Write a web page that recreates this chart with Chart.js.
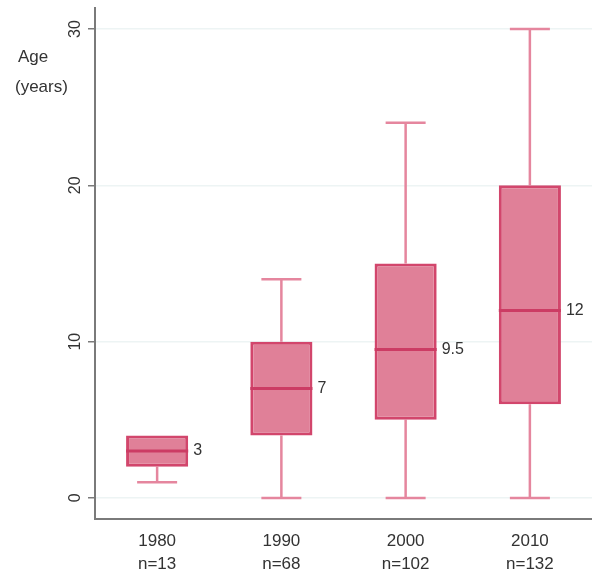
<!DOCTYPE html>
<html>
<head>
<meta charset="utf-8">
<script src="https://cdn.jsdelivr.net/npm/chart.js@4"></script>
<style>
    html, body { margin: 0; padding: 0; background: #fff; }
    #wrap { width: 592px; height: 579px; }
</style>
</head>
<body>
<div id="wrap"><canvas id="ageChart"></canvas></div>
<script>
// data
const years = ['1980', '1990', '2000', '2010'];
const counts = ['n=13', 'n=68', 'n=102', 'n=132'];
const mins = [1, 0, 0, 0];
const q1s = [2, 4, 5, 6];
const medians = [3, 7, 9.5, 12];
const q3s = [4, 10, 15, 20];
const maxs = [4, 14, 24, 30];
const medianLabels = ['3', '7', '9.5', '12'];
const yTicks = [0, 10, 20, 30];

const textColor = '#333';
const axisColor = '#7a7a7a';

// whiskers go under the boxes
const whiskerPlugin = {
    id: 'whiskers',
    beforeDatasetsDraw(chart) {
        const { ctx, scales: { x, y } } = chart;
        ctx.save();
        ctx.strokeStyle = '#e5869e';
        ctx.lineWidth = 2.5;
        years.forEach((yr, i) => {
            const cx = x.getPixelForValue(i);
            const capHalf = 20;
            const lines = [[q1s[i], mins[i]], [q3s[i], maxs[i]]];
            lines.forEach(([from, to]) => {
                if (from === to) return;
                ctx.beginPath();
                ctx.moveTo(cx, y.getPixelForValue(from));
                ctx.lineTo(cx, y.getPixelForValue(to));
                ctx.moveTo(cx - capHalf, y.getPixelForValue(to));
                ctx.lineTo(cx + capHalf, y.getPixelForValue(to));
                ctx.stroke();
            });
        });
        ctx.restore();
    },
    afterDatasetsDraw(chart) {
        const { ctx, scales: { x, y } } = chart;
        const meta = chart.getDatasetMeta(0);
        ctx.save();
        years.forEach((yr, i) => {
            const bar = meta.data[i];
            const half = bar.width / 2;
            const cx = bar.x;
            const my = y.getPixelForValue(medians[i]);
            ctx.strokeStyle = '#cc3c64';
            ctx.lineWidth = 3;
            ctx.beginPath();
            ctx.moveTo(cx - half, my);
            ctx.lineTo(cx + half, my);
            ctx.stroke();

            ctx.fillStyle = textColor;
            ctx.font = '16px "Liberation Sans", Arial, sans-serif';
            ctx.textAlign = 'left';
            ctx.textBaseline = 'middle';
            ctx.fillText(medianLabels[i], cx + half + 5, my);
        });
        ctx.restore();
    },
    afterDraw(chart) {
        const { ctx, scales: { y } } = chart;
        ctx.save();
        ctx.fillStyle = textColor;
        ctx.font = '16px "Liberation Sans", Arial, sans-serif';

        // y tick labels, rotated
        ctx.textAlign = 'center';
        ctx.textBaseline = 'middle';
        yTicks.forEach(v => {
            ctx.save();
            ctx.translate(y.left + 76, y.getPixelForValue(v));
            ctx.rotate(-Math.PI / 2);
            ctx.fillText(String(v), 0, 0);
            ctx.restore();
        });

        // axis title
        ctx.font = '17px "Liberation Sans", Arial, sans-serif';
        ctx.textAlign = 'left';
        ctx.fillText('Age', 18, 57);
        ctx.fillText('(years)', 15, 87);
        ctx.restore();
    }
};

function renderAgeChart() {
    const canvas = document.getElementById('ageChart');

    new Chart(canvas, {
        type: 'bar',
        data: {
            labels: years.map((yr, i) => [yr, counts[i]]),
            datasets: [{
                data: years.map((yr, i) => [q1s[i], q3s[i]]),
                backgroundColor: '#e08098',
                borderColor: '#d2466c',
                borderWidth: 3,
                borderSkipped: false,
                barPercentage: 0.5,
                categoryPercentage: 1
            }]
        },
        options: {
            responsive: true,
            maintainAspectRatio: false,
            animation: false,
            layout: {
                padding: { top: 8, right: 0, left: 0, bottom: 0 }
            },
            plugins: {
                legend: { display: false },
                tooltip: { enabled: false }
            },
            scales: {
                x: {
                    grid: { display: false },
                    border: { display: true, color: axisColor, width: 2 },
                    ticks: {
                        color: textColor,
                        font: { size: 17, family: '"Liberation Sans", Arial, sans-serif', lineHeight: 1.35 },
                        padding: 3,
                        maxRotation: 0
                    },
                    afterFit(scale) { scale.height = 60; }
                },
                y: {
                    min: -1.35,
                    max: 31.35,
                    afterBuildTicks(scale) {
                        scale.ticks = yTicks.map(v => ({ value: v }));
                    },
                    grid: {
                        color: '#edf4f4',
                        lineWidth: 1.5,
                        tickColor: axisColor,
                        tickLength: 7,
                        drawTicks: true
                    },
                    border: { display: true, color: axisColor, width: 2 },
                    ticks: { display: false },
                    afterFit(scale) { scale.width = 95; }
                }
            }
        },
        plugins: [whiskerPlugin]
    });
}

document.addEventListener('DOMContentLoaded', renderAgeChart);
</script>
</body>
</html>
